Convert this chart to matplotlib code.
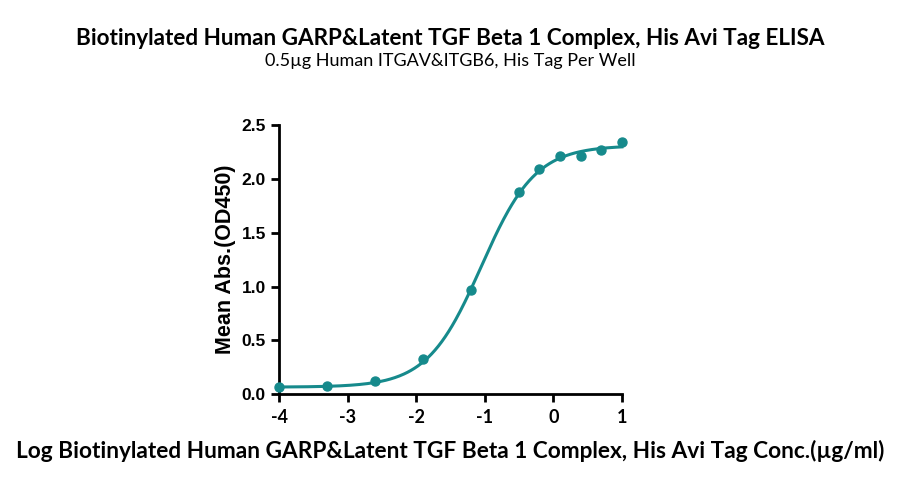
import matplotlib
matplotlib.use("Agg")
import matplotlib.pyplot as plt
import numpy as np

plt.rcParams["axes.unicode_minus"] = False

# log10 concentration (ug/ml) and mean OD450
log_conc = [-4.0, -3.301, -2.602, -1.903, -1.204, -0.505, -0.204, 0.097, 0.398, 0.699, 1.0]
mean_od = [0.062, 0.074, 0.124, 0.33, 0.97, 1.88, 2.09, 2.21, 2.21, 2.27, 2.34]

# 4PL fit parameters
fit_bottom = 0.065
fit_top = 2.31
fit_logec50 = -1.05
fit_hill = 1.1

title = "Biotinylated Human GARP&Latent TGF Beta 1 Complex, His Avi Tag ELISA"
subtitle = "0.5\u00b5g Human ITGAV&ITGB6, His Tag Per Well"
xlabel = "Log Biotinylated Human GARP&Latent TGF Beta 1 Complex, His Avi Tag Conc.(\u00b5g/ml)"
ylabel = "Mean Abs.(OD450)"

teal = "#168a8c"

fig = plt.figure(figsize=(9, 4.83), dpi=100)
ax = fig.add_axes([0.31, 0.184, 0.381, 0.557])

xs = np.linspace(-4, 1, 300)
ys = fit_bottom + (fit_top - fit_bottom) / (1 + 10 ** (fit_hill * (fit_logec50 - xs)))
ax.plot(xs, ys, color=teal, lw=2.2, clip_on=False, zorder=3)
ax.scatter(log_conc, mean_od, color=teal, s=42, clip_on=False, zorder=4)

ax.set_xlim(-4, 1)
ax.set_ylim(0, 2.5)
ax.set_xticks([-4, -3, -2, -1, 0, 1])
ax.set_yticks([0, 0.5, 1.0, 1.5, 2.0, 2.5])
ax.set_yticklabels(["0.0", "0.5", "1.0", "1.5", "2.0", "2.5"])
for s in ["top", "right"]:
    ax.spines[s].set_visible(False)
for s in ["left", "bottom"]:
    ax.spines[s].set_linewidth(2)
ax.tick_params(width=2, length=6, direction="out")
ax.tick_params(axis="x", pad=5)
for t in ax.get_yticklabels():
    t.set_fontfamily("Liberation Sans")
    t.set_fontweight("bold")
    t.set_fontsize(12.5)
for t in ax.get_xticklabels():
    t.set_fontfamily("Lato")
    t.set_fontweight("bold")
    t.set_fontsize(13)

ax.set_ylabel(ylabel, fontfamily="Liberation Sans", fontweight="bold", fontsize=15.5, labelpad=4)
ax.set_xlabel(xlabel, fontfamily="Lato", fontweight="bold", fontsize=16.3, labelpad=10)

fig.text(0.5, 0.907, title, ha="center", fontfamily="Lato", fontweight="bold", fontsize=16.2)
fig.text(0.5, 0.864, subtitle, ha="center", fontfamily="Lato", fontsize=13)

fig.savefig("out.png", dpi=100)
